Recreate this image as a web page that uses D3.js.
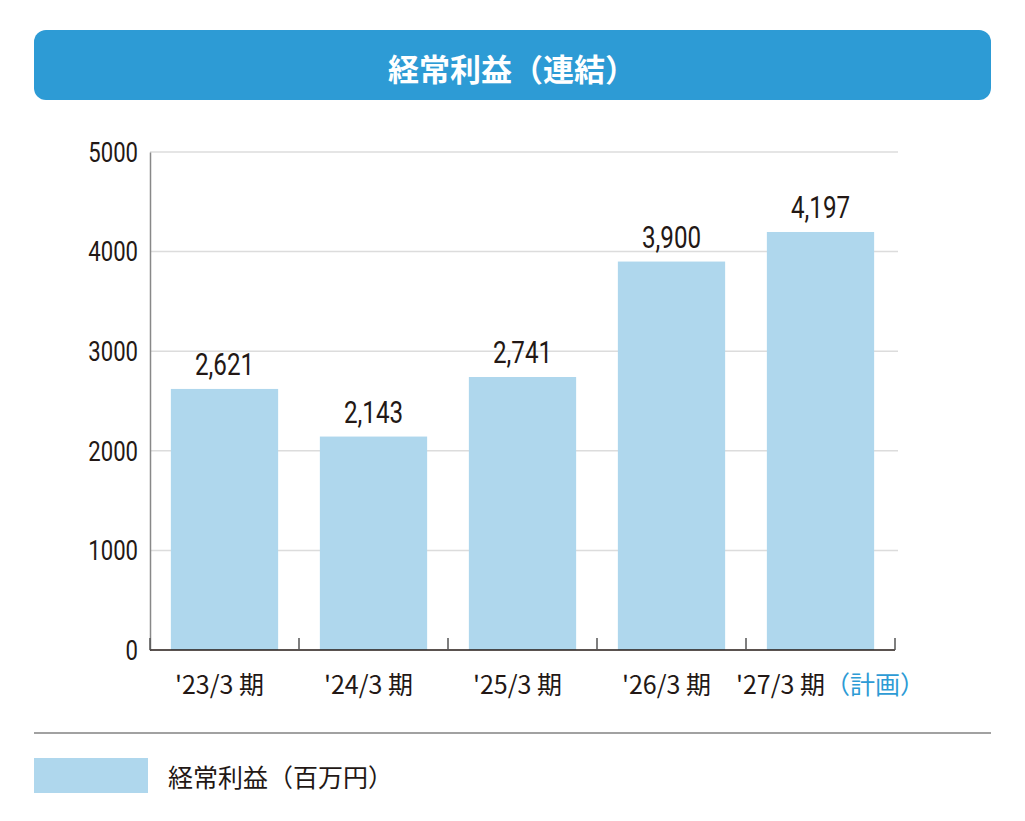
<!DOCTYPE html>
<html><head><meta charset="utf-8">
<script src="https://cdn.jsdelivr.net/npm/d3@7"></script>
<style>body{margin:0;background:#fff}svg{display:block}</style>
</head><body>
<script>
const categories = ["'23/3 期", "'24/3 期", "'25/3 期", "'26/3 期", "'27/3 期"];
const values = [2621, 2143, 2741, 3900, 4197];
const yTicks = [0, 1000, 2000, 3000, 4000, 5000];
const planNote = "（計画）";
const title = "経常利益（連結）";
const legendLabel = "経常利益（百万円）";

const W = 1025, H = 821;
const svg = d3.select("body").append("svg").attr("width", W).attr("height", H);
const cjk = "'Noto Sans CJK JP','Noto Sans',sans-serif";
const narrow = "Roboto,'Liberation Sans',sans-serif";
const dark = "#231815", barColor = "#afd7ed", blue = "#2d9bd5";

// title bar
svg.append("rect").attr("x", 34).attr("y", 30).attr("width", 957).attr("height", 70)
  .attr("rx", 12).attr("fill", blue);
svg.append("text").attr("x", 512).attr("y", 67).attr("text-anchor", "middle")
  .attr("dominant-baseline", "central").attr("fill", "#fff")
  .attr("font-family", cjk).attr("font-weight", 700).attr("font-size", 31)
  .text(title);

const x = d3.scaleBand().domain(categories).range([150, 895]).paddingInner(0.28).paddingOuter(0.14);
const y = d3.scaleLinear().domain([0, 5000]).range([650, 152]);

// grid
svg.append("g").selectAll("line").data(yTicks.filter(d => d > 0)).join("line")
  .attr("x1", 150).attr("x2", 898).attr("y1", d => y(d)).attr("y2", d => y(d))
  .attr("stroke", "#dcdcdc").attr("stroke-width", 1.5);

// y axis
const ya = svg.append("g").attr("transform", "translate(150,0)")
  .call(d3.axisLeft(y).tickValues(yTicks).tickSize(0).tickPadding(0).tickFormat(d3.format("d")));
ya.select(".domain").attr("stroke", "#888").attr("stroke-width", 1.5);
ya.selectAll(".tick text").attr("x", null).attr("dy", null)
  .attr("transform", "translate(-12,0) scale(0.82,1)")
  .attr("dominant-baseline", "central")
  .attr("font-family", narrow).attr("font-size", 27).attr("fill", dark);

// bars
svg.append("g").selectAll("rect").data(values).join("rect")
  .attr("x", (d, i) => x(categories[i])).attr("width", x.bandwidth())
  .attr("y", d => y(d)).attr("height", d => y(0) - y(d)).attr("fill", barColor);

// value labels
svg.append("g").selectAll("text").data(values).join("text")
  .attr("transform", (d, i) => `translate(${x(categories[i]) + x.bandwidth() / 2},${y(d) - 14}) scale(0.78,1)`)
  .attr("text-anchor", "middle")
  .attr("font-family", narrow).attr("font-size", 31).attr("fill", dark)
  .text(d => d3.format(",")(d));

// x axis baseline + ticks at band boundaries
svg.append("line").attr("x1", 150).attr("x2", 895).attr("y1", 650).attr("y2", 650)
  .attr("stroke", dark).attr("stroke-width", 1.5);
const step = x.step();
const bounds = d3.range(categories.length + 1).map(i => 150 + i * step);
svg.append("g").selectAll("line").data(bounds).join("line")
  .attr("x1", d => d).attr("x2", d => d).attr("y1", 638).attr("y2", 650)
  .attr("stroke", "#555").attr("stroke-width", 1.5);

// x labels
const xl = svg.append("g").selectAll("text").data(categories).join("text")
  .attr("x", (d, i) => x(d) + x.bandwidth() / 2 + (i === categories.length - 1 ? 10 : -5))
  .attr("y", 683).attr("dominant-baseline", "central").attr("text-anchor", "middle")
  .attr("font-family", cjk).attr("font-size", 25).attr("fill", dark);
xl.append("tspan").text(d => d);
xl.filter((d, i) => i === categories.length - 1).append("tspan").attr("fill", blue).text(planNote);

// separator
svg.append("line").attr("x1", 34).attr("x2", 991).attr("y1", 733).attr("y2", 733)
  .attr("stroke", "#444").attr("stroke-width", 1.2);

// legend
svg.append("rect").attr("x", 34).attr("y", 758).attr("width", 114).attr("height", 35).attr("fill", barColor);
svg.append("text").attr("x", 168).attr("y", 776).attr("dominant-baseline", "central")
  .attr("font-family", cjk).attr("font-size", 25).attr("fill", dark).text(legendLabel);
</script>
</body></html>
